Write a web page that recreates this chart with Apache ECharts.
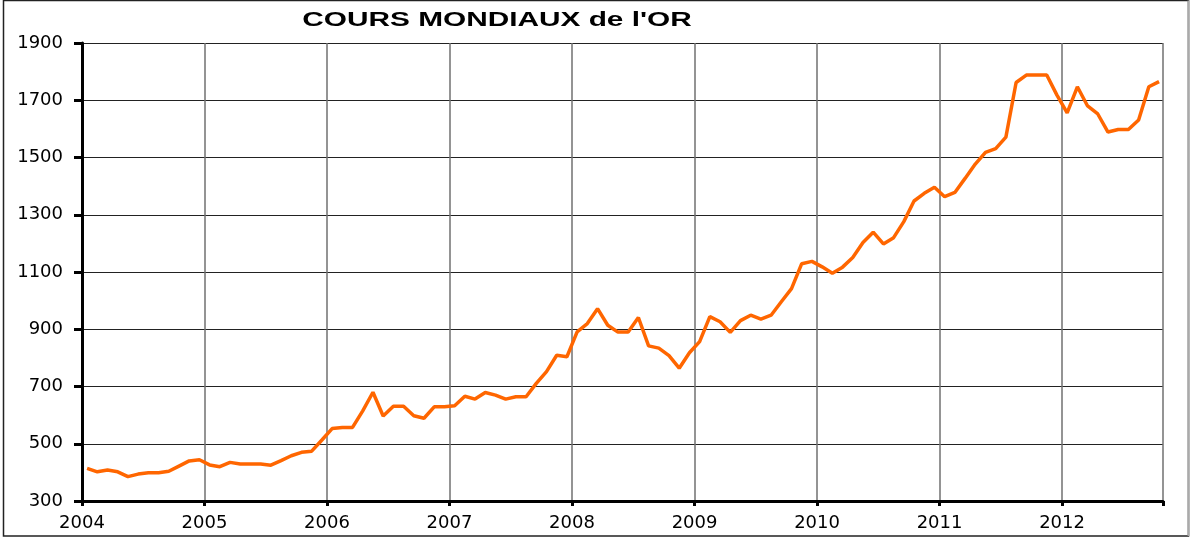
<!DOCTYPE html>
<html>
<head>
<meta charset="utf-8">
<title>Cours mondiaux de l'or</title>
<script src="https://cdn.jsdelivr.net/npm/echarts@6/dist/echarts.min.js"></script>
<style>
  html, body { margin: 0; padding: 0; background: #fff; }
  #chart { width: 1191px; height: 537px; }
</style>
</head>
<body>
<div id="chart"></div>
<script>
// cours moyen mensuel de l'once d'or, un tableau par année
var annees = [2004, 2005, 2006, 2007, 2008, 2009, 2010, 2011, 2012];
var or2004 = [414, 402, 408, 402, 385, 394, 399, 399, 404, 422, 440, 444];
var or2005 = [426, 420, 435, 429, 429, 429, 425, 441, 458, 470, 474, 513];
var or2006 = [553, 557, 557, 615, 680, 597, 631, 631, 598, 589, 629, 629];
var or2007 = [633, 666, 656, 679, 670, 656, 664, 664, 711, 752, 809, 804];
var or2008 = [891, 920, 972, 914, 890, 890, 941, 842, 834, 808, 764, 818];
var or2009 = [857, 944, 926, 889, 930, 949, 935, 949, 996, 1042, 1129, 1137];
var or2010 = [1118, 1096, 1117, 1151, 1203, 1239, 1198, 1220, 1276, 1348, 1375, 1396];
var or2011 = [1363, 1378, 1427, 1477, 1518, 1531, 1571, 1762, 1788, 1788, 1788, 1718];
var or2012 = [1656, 1747, 1680, 1652, 1589, 1598, 1598, 1631, 1747, 1765];

// graduations de l'axe des prix
var prixMin = 300;
var prixMax = 1900;
var prixPas = 200;

var titre = "COURS MONDIAUX de l'OR";

var parAnnee = [or2004, or2005, or2006, or2007, or2008, or2009, or2010, or2011, or2012];

// chaque mois est placé au milieu de son intervalle
var points = [];
annees.forEach(function (a, k) {
  parAnnee[k].forEach(function (v, m) {
    points.push([a + (m + 0.5) / 12, v]);
  });
});

var myChart = echarts.init(document.getElementById('chart'));

var police = 'DejaVu Sans';

var option = {
  animation: false,
  grid: {
    left: 82,
    right: 28,
    top: 43,
    bottom: 36
  },
  xAxis: {
    type: 'value',
    min: annees[0],
    max: 2012.824,
    interval: 1,
    axisLine: { lineStyle: { color: '#000', width: 3 } },
    axisTick: { length: 5, lineStyle: { color: '#000', width: 3 } },
    axisLabel: {
      color: '#000',
      fontFamily: police,
      fontSize: 18,
      margin: 13,
      formatter: function (v) {
        return v % 1 === 0 ? String(v) : '';
      }
    },
    splitLine: { show: true, lineStyle: { color: '#707070', width: 1.5 } }
  },
  yAxis: {
    type: 'value',
    min: prixMin,
    max: prixMax,
    interval: prixPas,
    axisLine: { show: true, lineStyle: { color: '#000', width: 3 } },
    axisTick: { show: true, length: 8, lineStyle: { color: '#000', width: 3 } },
    axisLabel: {
      color: '#000',
      fontFamily: police,
      fontSize: 18,
      margin: 19,
      formatter: function (v) {
        return String(v);
      }
    },
    splitLine: { show: true, lineStyle: { color: '#222', width: 1.2 } }
  },
  series: [
    {
      type: 'line',
      data: points,
      showSymbol: false,
      lineStyle: { color: '#FF6600', width: 3.5 }
    }
  ],
  graphic: [
    {
      // cadre extérieur
      type: 'rect',
      shape: { x: 3.5, y: 0.5, width: 1185, height: 535.5 },
      style: { fill: 'none', stroke: '#222', lineWidth: 1.5 },
      silent: true
    },
    {
      type: 'line',
      shape: { x1: 1188.5, y1: 0.5, x2: 1188.5, y2: 536 },
      style: { stroke: '#aaa', lineWidth: 2 },
      silent: true
    },
    {
      // titre, étiré comme sur l'original
      type: 'text',
      x: 497,
      y: 20,
      scaleX: 1.49,
      style: {
        text: titre,
        font: 'bold 20px "Liberation Sans", Arial, sans-serif',
        fill: '#000',
        align: 'center',
        verticalAlign: 'middle'
      },
      silent: true
    }
  ]
};

myChart.setOption(option);
</script>
</body>
</html>
